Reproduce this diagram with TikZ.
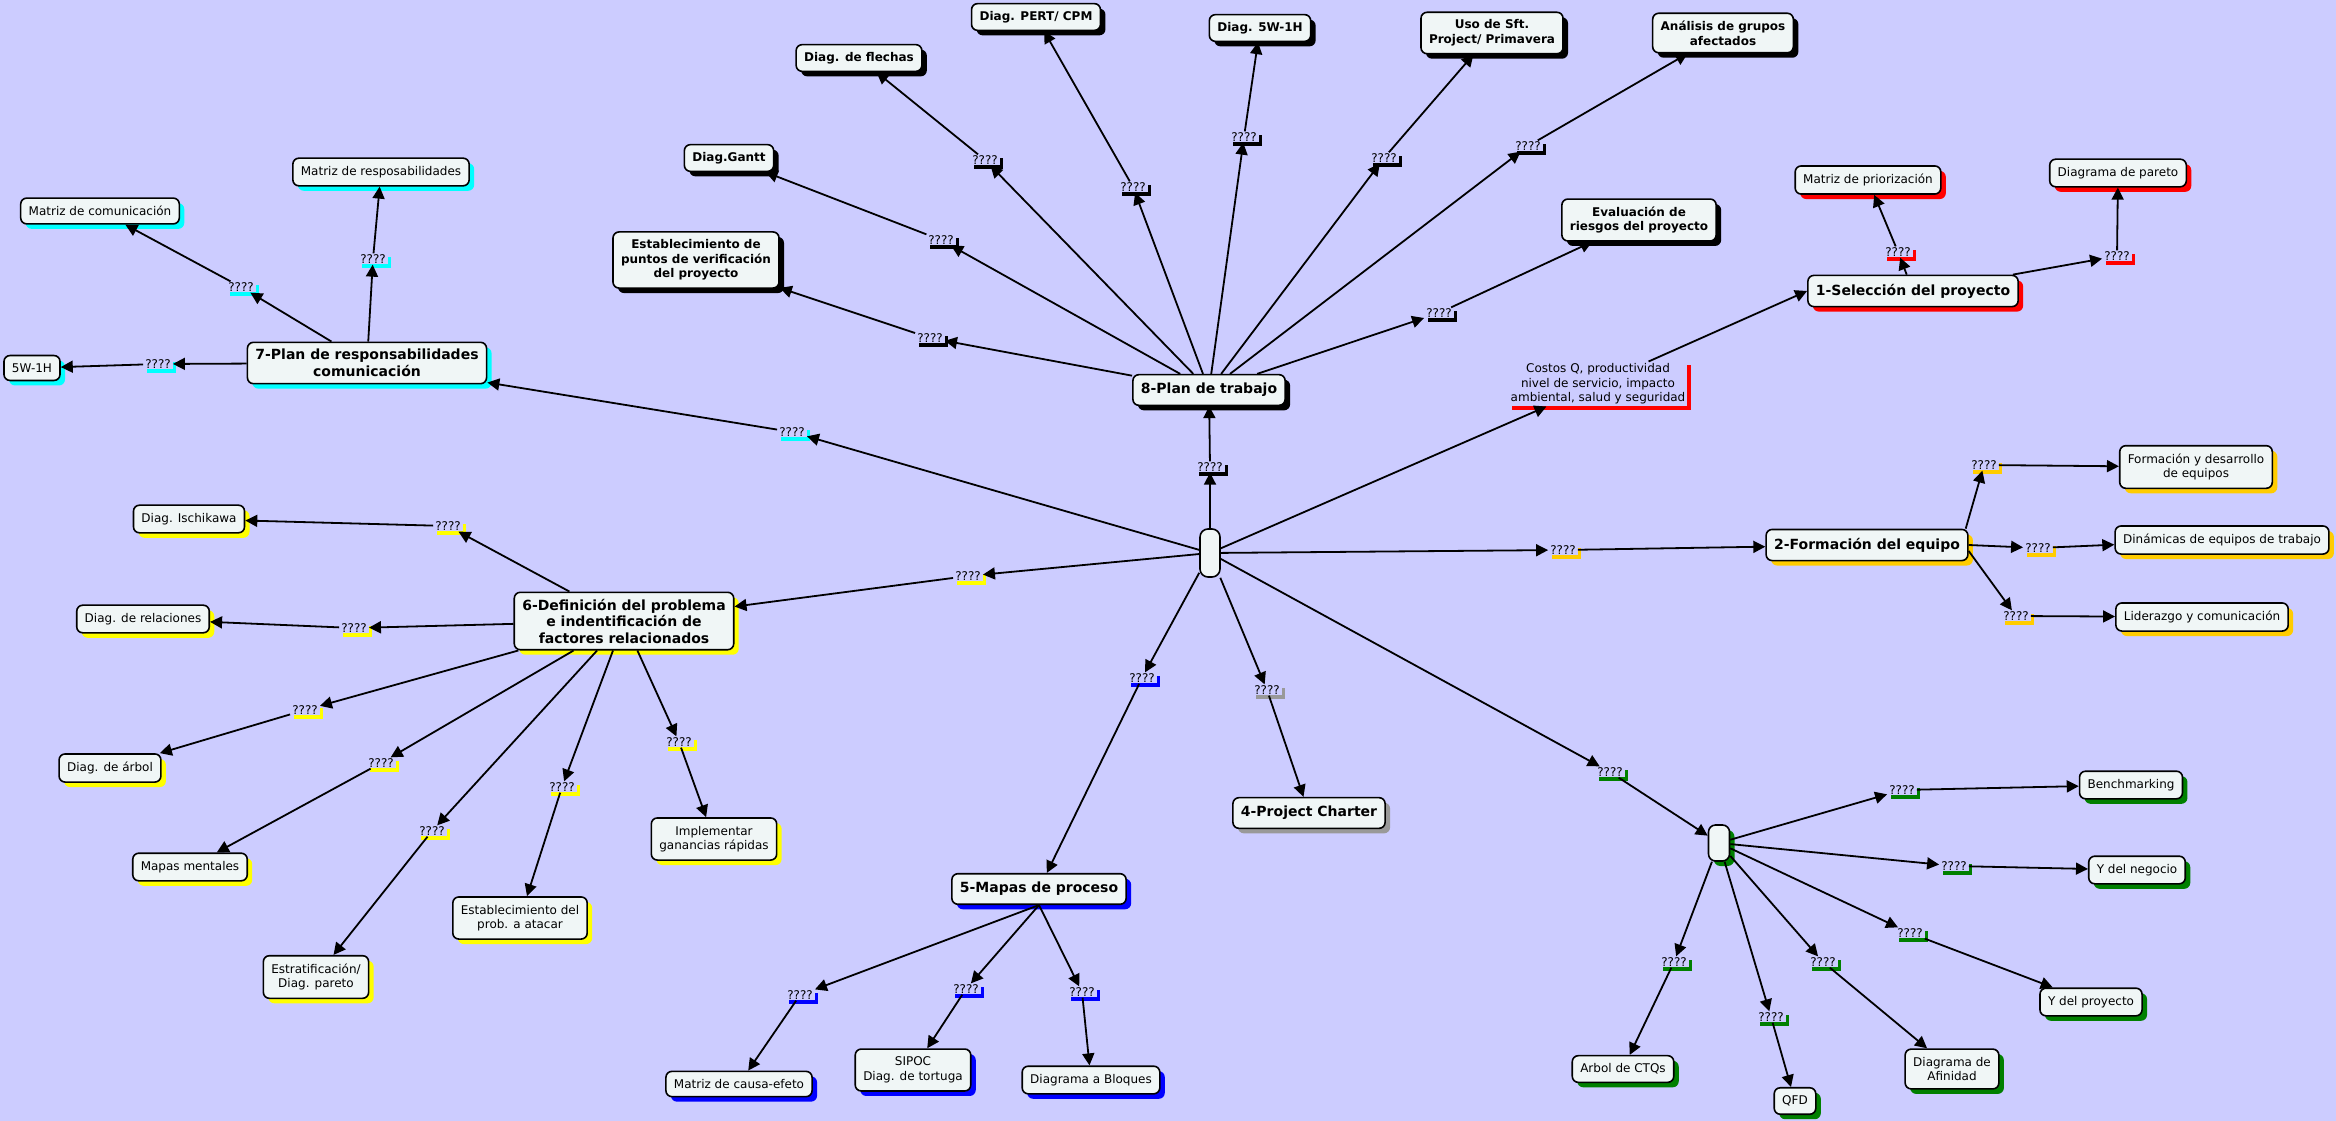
\documentclass[tikz,border=0pt]{standalone}
\usepackage{fontspec}
\setmainfont{DejaVu Sans}
\usetikzlibrary{shadows,arrows.meta}
\definecolor{bgc}{RGB}{204,204,255}
\definecolor{nfill}{RGB}{240,246,246}
\definecolor{shred}{RGB}{255,0,0}
\definecolor{shorange}{RGB}{255,204,0}
\definecolor{shyellow}{RGB}{255,255,0}
\definecolor{shcyan}{RGB}{0,255,255}
\definecolor{shblue}{RGB}{0,0,255}
\definecolor{shgray}{RGB}{153,153,153}
\definecolor{shgreen}{RGB}{0,128,0}
\definecolor{shblack}{RGB}{0,0,0}
\tikzset{
 box/.style={draw=black, line width=1.6pt, rounded corners=6pt, fill=nfill, align=center, inner xsep=8pt, inner ysep=8.5pt},
 sh/.style={drop shadow={shadow xshift=5pt, shadow yshift=-5pt, fill=#1, opacity=1}},
 mainbox/.style={box, sh=#1, inner ysep=8.5pt, font=\fontsize{14}{16.5}\selectfont\bfseries},
 bbox/.style={box, sh=#1, inner ysep=7.5pt, font=\fontsize{12}{14.7}\selectfont\bfseries},
 nbox/.style={box, sh=#1, inner ysep=8pt, font=\fontsize{12}{14.5}\selectfont},
 lab/.style={fill=bgc, inner xsep=2pt, inner ysep=1pt, align=center, font=\fontsize{12}{14.5}\selectfont, drop shadow={shadow xshift=3.5pt, shadow yshift=-3.5pt, fill=#1, opacity=1}},
 arr/.style={line width=1.8pt, -{Triangle[length=12pt,width=12pt]}},
}
\begin{document}
\begin{tikzpicture}[x=1pt,y=-1pt]
\fill[bgc] (0,0) rectangle (2336,1121);
\useasboundingbox (0,0) rectangle (2336,1121);
% hubs
\node[box, rounded corners=8pt, minimum width=20pt, minimum height=48pt, inner sep=0pt] (hub) at (1210,553) {};
\node[box, rounded corners=7pt, sh=shgreen, minimum width=21pt, minimum height=36pt, inner sep=0pt] (hubb) at (1719,843) {};
% main nodes
\node[mainbox=shblack] (n8) at (1209,390) {8-Plan de trabajo};
\node[mainbox=shcyan, inner ysep=7pt] (n7) at (367,363) {7-Plan de responsabilidades\\comunicación};
\node[mainbox=shyellow, inner ysep=6.5pt] (n6) at (624,621) {6-Definición del problema\\e indentificación de\\factores relacionados};
\node[mainbox=shblue] (n5) at (1039,889) {5-Mapas de proceso};
\node[mainbox=shgray] (n4) at (1309,813) {4-Project Charter};
\node[mainbox=shorange] (n2) at (1867,545) {2-Formación del equipo};
\node[mainbox=shred] (n1) at (1913,291) {1-Selección del proyecto};
% hub labels
\node[lab=shblack] (l8) at (1210,467) {????};
\node[lab=shcyan] (l7) at (792,432) {????};
\node[lab=shyellow] (l6) at (968,576) {????};
\node[lab=shblue] (l5) at (1142,678) {????};
\node[lab=shgray] (l4) at (1267,690) {????};
\node[lab=shorange] (l2) at (1563,550) {????};
\node[lab=shgreen] (lh) at (1610,772) {????};
\node[lab=shred, inner sep=2pt] (l1) at (1598,384) {Costos Q, productividad\\nivel de servicio, impacto\\ambiental, salud y seguridad};
\foreach \a/\b in {hub/l8,l8/n8,hub/l7,l7/n7,hub/l6,l6/n6,hub/l5,l5/n5,hub/l4,l4/n4,hub/l2,l2/n2,hub/lh,lh/hubb,hub/l1}
  \draw[arr] (\a) -- (\b);
\draw[arr] (l1) -- (n1.west);
% 8 children
\node[bbox=shblack] (gantt) at (729,158) {Diag.Gantt};
\node[bbox=shblack] (epv) at (696,260) {Establecimiento de\\puntos de verificación\\del proyecto};
\node[bbox=shblack] (df) at (859,58) {Diag. de flechas};
\node[bbox=shblack] (pert) at (1036,17) {Diag. PERT/ CPM};
\node[bbox=shblack] (dfive) at (1260,28) {Diag. 5W-1H};
\node[bbox=shblack] (uso) at (1492,33) {Uso de Sft.\\Project/ Primavera};
\node[bbox=shblack] (aga) at (1723,33) {Análisis de grupos\\afectados};
\node[bbox=shblack] (erp) at (1639,220) {Evaluación de\\riesgos del proyecto};
\node[lab=shblack] (lgantt) at (941,240) {????};
\node[lab=shblack] (lepv) at (930,338) {????};
\node[lab=shblack] (ldf) at (985,160) {????};
\node[lab=shblack] (lpert) at (1133,187) {????};
\node[lab=shblack] (ldfive) at (1244,137) {????};
\node[lab=shblack] (luso) at (1384,158) {????};
\node[lab=shblack] (laga) at (1528,146) {????};
\node[lab=shblack] (lerp) at (1439,313) {????};
\foreach \c in {gantt,epv,df,pert,dfive,uso,aga,erp}
  {\draw[arr] (n8) -- (l\c); \draw[arr] (l\c) -- (\c);}
% 7 children
\node[nbox=shcyan] (mc) at (100,211) {Matriz de comunicación};
\node[nbox=shcyan] (mr) at (381,172) {Matriz de resposabilidades};
\node[nbox=shcyan] (wf) at (32,368) {5W-1H};
\node[lab=shcyan] (lmc) at (241,287) {????};
\node[lab=shcyan] (lmr) at (373,259) {????};
\node[lab=shcyan] (lwf) at (158,364) {????};
\foreach \c in {mc,mr,wf}
  {\draw[arr] (n7) -- (l\c); \draw[arr] (l\c) -- (\c);}
% 6 children
\node[nbox=shyellow] (ish) at (189,519) {Diag. Ischikawa};
\node[nbox=shyellow] (rel) at (143,619) {Diag. de relaciones};
\node[nbox=shyellow] (arb) at (110,768) {Diag. de árbol};
\node[nbox=shyellow] (mm) at (190,867) {Mapas mentales};
\node[nbox=shyellow] (est) at (316,977) {Estratificación/\\Diag. pareto};
\node[nbox=shyellow] (epa) at (520,918) {Establecimiento del\\prob. a atacar};
\node[nbox=shyellow] (igr) at (714,839) {Implementar\\ganancias rápidas};
\node[lab=shyellow] (lish) at (448,526) {????};
\node[lab=shyellow] (lrel) at (354,628) {????};
\node[lab=shyellow] (larb) at (305,710) {????};
\node[lab=shyellow] (lmm) at (381,763) {????};
\node[lab=shyellow] (lest) at (432,831) {????};
\node[lab=shyellow] (lepa) at (562,787) {????};
\node[lab=shyellow] (ligr) at (679,742) {????};
\foreach \c in {ish,rel,arb,mm,est,epa,igr}
  {\draw[arr] (n6) -- (l\c); \draw[arr] (l\c) -- (\c);}
% 5 children
\node[nbox=shblue] (mce) at (739,1084) {Matriz de causa-efeto};
\node[nbox=shblue] (sip) at (913,1070) {SIPOC\\Diag. de tortuga};
\node[nbox=shblue] (dab) at (1091,1080) {Diagrama a Bloques};
\node[lab=shblue] (lmce) at (800,995) {????};
\node[lab=shblue] (lsip) at (966,989) {????};
\node[lab=shblue] (ldab) at (1082,992) {????};
\foreach \c in {mce,sip,dab}
  {\draw[arr] (n5.south) -- (l\c); \draw[arr] (l\c) -- (\c);}
% 1 children
\node[nbox=shred] (mp) at (1868,180) {Matriz de priorización};
\node[nbox=shred] (dp) at (2118,173) {Diagrama de pareto};
\node[lab=shred] (lmp) at (1898,252) {????};
\node[lab=shred] (ldp) at (2117,256) {????};
\draw[arr] (n1) -- (lmp); \draw[arr] (lmp) -- (mp);
\draw[arr] ([xshift=-6pt]n1.north east) -- (ldp); \draw[arr] (ldp) -- (dp);
% 2 children
\node[nbox=shorange] (fd) at (2196,467) {Formación y desarrollo\\de equipos};
\node[nbox=shorange] (dq) at (2222,540) {Dinámicas de equipos de trabajo};
\node[nbox=shorange] (lyc) at (2202,617) {Liderazgo y comunicación};
\node[lab=shorange] (lfd) at (1984,465) {????};
\node[lab=shorange] (ldq) at (2038,548) {????};
\node[lab=shorange] (llyc) at (2016,616) {????};
\draw[arr] ([xshift=-3pt]n2.north east) -- (lfd);
\draw[arr] (n2.east) -- (ldq);
\draw[arr] ([yshift=-6pt]n2.east) -- (llyc);
\foreach \c in {fd,dq,lyc}
  {\draw[arr] (l\c) -- (\c);}
% hub2 children
\node[nbox=shgreen] (ben) at (2131,785) {Benchmarking};
\node[nbox=shgreen] (yn) at (2137,870) {Y del negocio};
\node[nbox=shgreen] (yp) at (2091,1002) {Y del proyecto};
\node[nbox=shgreen] (daf) at (1952,1069) {Diagrama de\\Afinidad};
\node[nbox=shgreen] (qfd) at (1795,1101) {QFD};
\node[nbox=shgreen] (ctq) at (1623,1069) {Arbol de CTQs};
\node[lab=shgreen] (lben) at (1902,790) {????};
\node[lab=shgreen] (lyn) at (1954,866) {????};
\node[lab=shgreen] (lyp) at (1910,933) {????};
\node[lab=shgreen] (ldaf) at (1823,962) {????};
\node[lab=shgreen] (lqfd) at (1771,1017) {????};
\node[lab=shgreen] (lctq) at (1674,962) {????};
\foreach \c in {ben,yn,yp,daf,qfd,ctq}
  {\draw[arr] (hubb) -- (l\c); \draw[arr] (l\c) -- (\c);}
\end{tikzpicture}
\end{document}
